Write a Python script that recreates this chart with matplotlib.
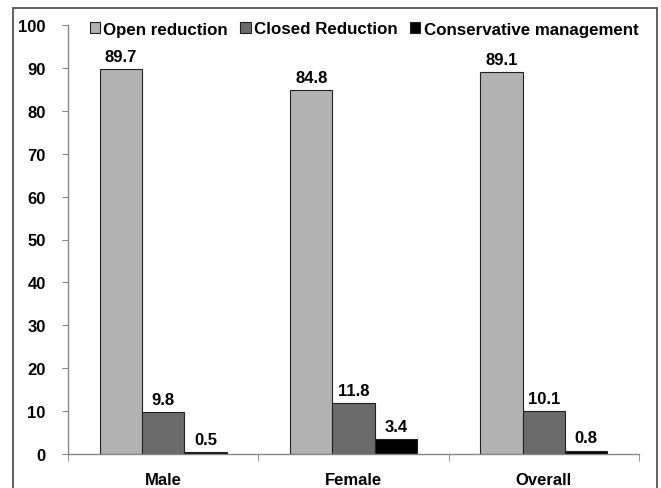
import matplotlib.pyplot as plt
import numpy as np
from matplotlib.patches import Rectangle

groups = ['Male', 'Female', 'Overall']
series = ['Open reduction', 'Closed Reduction', 'Conservative management']
open_reduction = [89.7, 84.8, 89.1]
closed_reduction = [9.8, 11.8, 10.1]
conservative = [0.5, 3.4, 0.8]
colors = ['#b2b2b2', '#6b6b6b', '#000000']

plt.rcParams['font.family'] = ['Liberation Sans', 'DejaVu Sans']
plt.rcParams['font.weight'] = 'bold'

fig = plt.figure(figsize=(6.61, 4.89), dpi=100)
ax = fig.add_axes([68 / 661, 34 / 489, 571 / 661, 429 / 489])

# outer border of the figure, bottom edge runs off the canvas
fig.patches.append(Rectangle((13 / 661, -0.05), 644 / 661, 1.05 - 9 / 489,
                             transform=fig.transFigure, fill=False,
                             edgecolor='#555555', linewidth=1.3))

x = np.arange(len(groups))
width = 0.222
for i, (vals, name) in enumerate(zip([open_reduction, closed_reduction, conservative], series)):
    pos = x + (i - 1) * width
    ax.bar(pos, vals, width, color=colors[i], edgecolor='#222222', linewidth=0.8, label=name)
    for p, v in zip(pos, vals):
        ax.text(p, v + 1.2, f'{v:.1f}', ha='center', va='bottom', fontsize=12, fontweight='bold')

ax.set_xlim(-0.5, 2.5)
ax.set_ylim(0, 100)
ax.set_yticks(range(0, 101, 10))
ax.set_xticks(x)
ax.set_xticklabels(groups)
ax.set_xticks([-0.5, 0.5, 1.5, 2.5], minor=True)
ax.tick_params(axis='x', which='major', length=0, pad=13, labelsize=12)
ax.tick_params(axis='x', which='minor', length=5, color='#888888', direction='out')
ax.tick_params(axis='y', length=4, color='#888888', labelsize=12, pad=12)
for lbl in ax.get_xticklabels() + ax.get_yticklabels():
    lbl.set_fontweight('bold')

for side in ['top', 'right']:
    ax.spines[side].set_visible(False)
for side in ['left', 'bottom']:
    ax.spines[side].set_color('#888888')
    ax.spines[side].set_linewidth(1.0)

leg = fig.legend(loc='center', bbox_to_anchor=(364 / 661, 1 - 30 / 489), ncol=3,
                 frameon=False, fontsize=12.2, handlelength=0.6, handleheight=0.6,
                 handletextpad=0.2, columnspacing=0.75, borderaxespad=0)
for t in leg.get_texts():
    t.set_fontweight('bold')

fig.savefig('out.png', dpi=100)
